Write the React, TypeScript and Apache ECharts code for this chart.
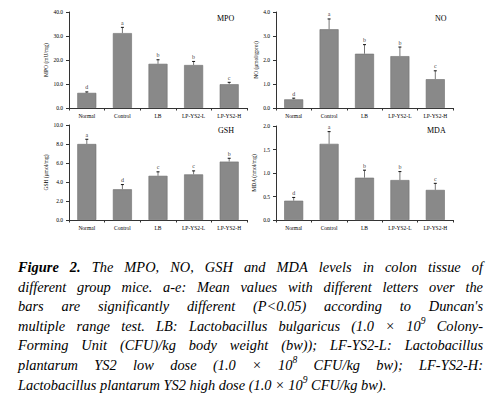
import React, { useEffect, useRef } from "react";
import * as echarts from "echarts";

const categories = ["Normal", "Control", "LB", "LP-YS2-L", "LP-YS2-H"];

const mpoValues = [6.3, 31.2, 18.4, 17.9, 9.9];
const mpoErrors = [0.4, 2.4, 1.7, 1.5, 0.8];
const mpoLetters = ["d", "a", "b", "b", "c"];

const noValues = [0.36, 3.28, 2.26, 2.16, 1.2];
const noErrors = [0.05, 0.43, 0.38, 0.38, 0.35];
const noLetters = ["d", "a", "b", "b", "c"];

const gshValues = [8.0, 3.23, 4.65, 4.8, 6.15];
const gshErrors = [0.5, 0.5, 0.42, 0.37, 0.35];
const gshLetters = ["a", "d", "c", "c", "b"];

const mdaValues = [0.41, 1.62, 0.9, 0.85, 0.64];
const mdaErrors = [0.07, 0.26, 0.16, 0.18, 0.14];
const mdaLetters = ["d", "a", "b", "b", "c"];

const panelTitles = ["MPO", "NO", "GSH", "MDA"];
const yAxisNames = ["MPO (mU/mg)", "NO (μmol/gprot)", "GSH (μmol/mg)", "MDA (nmol/mg)"];
const yMax = [40, 4, 10, 2];
const yInterval = [10, 1, 2, 0.5];

const captionLines = [
  "*Figure *2. The MPO, NO, GSH and MDA levels in colon tissue of",
  "different group mice. a-e: Mean values with different letters over the",
  "bars are significantly different (P<0.05) according to Duncan's",
  "multiple range test. LB: Lactobacillus bulgaricus (1.0 × 10^9 Colony-",
  "Forming Unit (CFU)/kg body weight (bw)); LF-YS2-L: Lactobacillus",
  "plantarum YS2 low dose (1.0 × 10^8 CFU/kg bw); LF-YS2-H:",
  "Lactobacillus plantarum YS2 high dose (1.0 × 10^9 CFU/kg bw).",
];

const SERIF = '"Liberation Serif", "Times New Roman", serif';

export default function App() {
  const ref = useRef<HTMLDivElement>(null);

  useEffect(() => {
    if (!ref.current) return;
    const chart = echarts.init(ref.current, undefined, { renderer: "svg" });

    const panels = [
      { values: mpoValues, errors: mpoErrors, letters: mpoLetters },
      { values: noValues, errors: noErrors, letters: noLetters },
      { values: gshValues, errors: gshErrors, letters: gshLetters },
      { values: mdaValues, errors: mdaErrors, letters: mdaLetters },
    ];

    const grids = [
      { left: 69, top: 12, width: 178, height: 96 },
      { left: 276, top: 12, width: 177, height: 96 },
      { left: 69, top: 125, width: 178, height: 95 },
      { left: 276, top: 126, width: 177, height: 94 },
    ];
    const nameGaps = [20, 15, 20, 19];
    const titlePos = [
      { left: 217, top: 14 },
      { left: 435, top: 14 },
      { left: 218, top: 126 },
      { left: 427, top: 126 },
    ];

    const xAxes = grids.map((_, i) => ({
      type: "category",
      gridIndex: i,
      data: categories,
      axisLine: { lineStyle: { color: "#333", width: 1 } },
      axisTick: { show: true, alignWithLabel: false, length: 2.5, lineStyle: { color: "#333" } },
      axisLabel: { interval: 0, fontSize: 5.5, fontFamily: SERIF, color: "#000", margin: 5 },
    }));

    const yAxes = grids.map((_, i) => ({
      type: "value",
      gridIndex: i,
      min: 0,
      max: yMax[i],
      interval: yInterval[i],
      name: yAxisNames[i],
      nameLocation: "middle",
      nameGap: nameGaps[i],
      nameRotate: 90,
      nameTextStyle: { fontSize: 5.5, fontFamily: SERIF, color: "#000" },
      splitLine: { show: false },
      axisLine: { show: true, lineStyle: { color: "#333", width: 1 } },
      axisTick: { show: true, length: 3, lineStyle: { color: "#333" } },
      axisLabel: {
        fontSize: 5.5,
        fontFamily: SERIF,
        color: "#000",
        margin: 6,
        formatter: (v: number) => v.toFixed(1),
      },
    }));

    const series: any[] = [];
    panels.forEach((p, i) => {
      series.push({
        type: "bar",
        xAxisIndex: i,
        yAxisIndex: i,
        data: p.values,
        barWidth: 19,
        itemStyle: { color: "#898989", borderColor: "#6e6e6e", borderWidth: 0.6 },
      });
      series.push({
        type: "custom",
        xAxisIndex: i,
        yAxisIndex: i,
        clip: false,
        z: 5,
        data: p.values.map((v, j) => [j, v, p.errors[j]]),
        renderItem: (params: any, api: any) => {
          const x = api.value(0);
          const v = api.value(1);
          const e = api.value(2);
          const p0 = api.coord([x, v]);
          const p1 = api.coord([x, v + e]);
          return {
            type: "group",
            children: [
              {
                type: "line",
                shape: { x1: p0[0], y1: p0[1], x2: p1[0], y2: p1[1] },
                style: { stroke: "#777", lineWidth: 1 },
              },
              {
                type: "line",
                shape: { x1: p1[0] - 1.5, y1: p1[1], x2: p1[0] + 1.5, y2: p1[1] },
                style: { stroke: "#111", lineWidth: 1 },
              },
            ],
          };
        },
      });
      series.push({
        type: "scatter",
        xAxisIndex: i,
        yAxisIndex: i,
        symbol: "circle",
        symbolSize: 1,
        itemStyle: { color: "rgba(0,0,0,0)" },
        z: 6,
        silent: true,
        data: p.values.map((v, j) => ({ value: [j, v + p.errors[j]], name: p.letters[j] })),
        label: {
          show: true,
          position: "top",
          distance: 1,
          formatter: (d: any) => d.name,
          fontSize: 6,
          fontFamily: SERIF,
          color: "#000",
        },
      });
    });

    // Caption (justified)
    const canvas = document.createElement("canvas");
    const ctx = canvas.getContext("2d")!;
    const FS = 14.4;
    const SUP = 9.5;
    const measure = (t: string, size: number, bold: boolean) => {
      ctx.font = `italic ${bold ? "bold " : ""}${size}px ${SERIF}`;
      return ctx.measureText(t).width;
    };
    const capLeft = 18;
    const capRight = 483;
    const capTop = 267;
    const capStep = 19.6;
    const graphics: any[] = [];
    captionLines.forEach((line, li) => {
      const words = line.split(" ").map((w) => {
        let bold = false;
        if (w.startsWith("*")) {
          bold = true;
          w = w.slice(1);
        }
        const parts = w.split("^");
        const segs = [{ t: parts[0], sup: false, bold }];
        if (parts[1]) segs.push({ t: parts[1], sup: true, bold });
        const segW = segs.map((s) => measure(s.t, s.sup ? SUP : FS, s.bold));
        return { segs, segW, width: segW.reduce((a, b) => a + b, 0) };
      });
      const total = words.reduce((a, w) => a + w.width, 0);
      const last = li === captionLines.length - 1;
      const gap = last ? measure(" ", FS, false) : (capRight - capLeft - total) / (words.length - 1);
      let x = capLeft;
      const y = capTop + li * capStep;
      words.forEach((w) => {
        let sx = x;
        w.segs.forEach((s, si) => {
          graphics.push({
            type: "text",
            x: sx,
            y: s.sup ? y - 5 : y,
            style: {
              text: s.t,
              fontSize: s.sup ? SUP : FS,
              fontFamily: SERIF,
              fontStyle: "italic",
              fontWeight: s.bold ? "bold" : "normal",
              fill: "#000",
              align: "left",
              verticalAlign: "middle",
            },
          });
          sx += w.segW[si];
        });
        x += w.width + gap;
      });
    });

    chart.setOption({
      animation: false,
      backgroundColor: "#fff",
      title: panelTitles.map((t, i) => ({
        text: t,
        left: titlePos[i].left,
        top: titlePos[i].top,
        padding: 0,
        textStyle: { fontSize: 8, fontFamily: SERIF, fontWeight: "normal", color: "#000" },
      })),
      grid: grids,
      xAxis: xAxes,
      yAxis: yAxes,
      series,
      graphic: graphics,
    });

    return () => chart.dispose();
  }, []);

  return (
    <div
      ref={ref}
      style={{ position: "fixed", left: 0, top: 0, width: 499, height: 402, background: "#fff" }}
    />
  );
}
